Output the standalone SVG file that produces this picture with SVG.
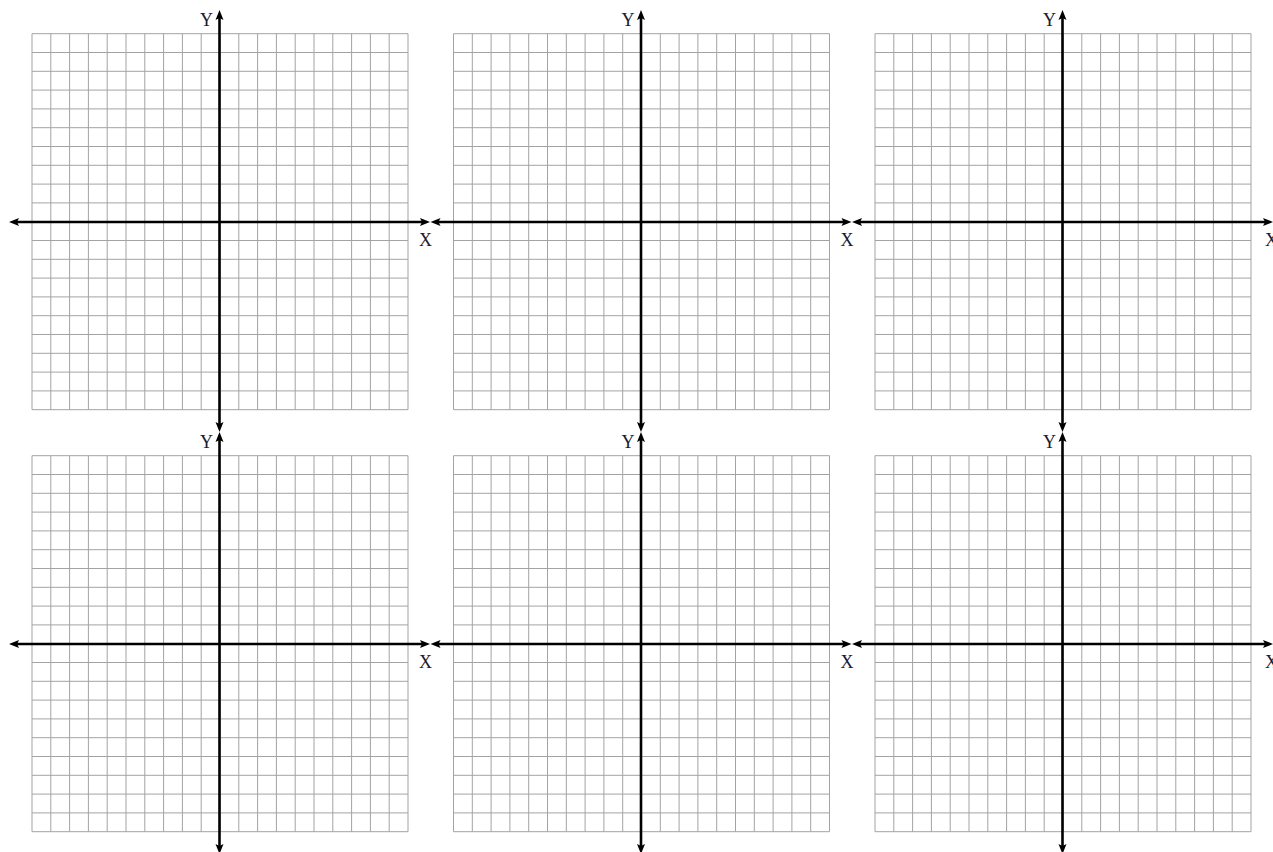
<svg xmlns="http://www.w3.org/2000/svg" xmlns:xlink="http://www.w3.org/1999/xlink" width="1273" height="852" viewBox="0 0 1273 852">
<style>
.grid{fill:none;stroke:#a3a3a3;stroke-width:1}
.axis{fill:none;stroke:#000;stroke-width:2.6}
.lbl{font-family:"Liberation Serif","Times New Roman",serif;font-size:18px;fill:#1a1a2e}
</style>
<defs>
<marker id="arr" viewBox="0 0 10 10" refX="4" refY="5" markerWidth="10" markerHeight="10" markerUnits="userSpaceOnUse" orient="auto-start-reverse" overflow="visible">
<path d="M10,5 L0,1 L2,5 L0,9 Z" fill="#000"/>
</marker>
<path id="gridp" class="grid" d="M0,0H376V376H0Z M18.8,0V376 M37.6,0V376 M56.4,0V376 M75.2,0V376 M94,0V376 M112.8,0V376 M131.6,0V376 M150.4,0V376 M169.2,0V376 M188,0V376 M206.8,0V376 M225.6,0V376 M244.4,0V376 M263.2,0V376 M282,0V376 M300.8,0V376 M319.6,0V376 M338.4,0V376 M357.2,0V376 M0,18.8H376 M0,37.6H376 M0,56.4H376 M0,75.2H376 M0,94H376 M0,112.8H376 M0,131.6H376 M0,150.4H376 M0,169.2H376 M0,188H376 M0,206.8H376 M0,225.6H376 M0,244.4H376 M0,263.2H376 M0,282H376 M0,300.8H376 M0,319.6H376 M0,338.4H376 M0,357.2H376"/>
<g id="axes">
<line class="axis" x1="-17" y1="188.3" x2="392" y2="188.3" marker-start="url(#arr)" marker-end="url(#arr)"/>
<line class="axis" x1="187.5" y1="-17.7" x2="187.5" y2="392.3" marker-start="url(#arr)" marker-end="url(#arr)"/>
</g>
</defs>
<rect width="1273" height="852" fill="#fff"/>
<g id="panel1" transform="translate(32,33.7)">
<use xlink:href="#gridp"/>
<g class="connectors"><use xlink:href="#axes"/></g>
<text class="lbl" x="168" y="-8">Y</text>
<text class="lbl" x="387" y="212.8">X</text>
</g>
<g id="panel2" transform="translate(453.5,33.7)">
<use xlink:href="#gridp"/>
<g class="connectors"><use xlink:href="#axes"/></g>
<text class="lbl" x="168" y="-8">Y</text>
<text class="lbl" x="387" y="212.8">X</text>
</g>
<g id="panel3" transform="translate(875,33.7)">
<use xlink:href="#gridp"/>
<g class="connectors"><use xlink:href="#axes"/></g>
<text class="lbl" x="168" y="-8">Y</text>
<text class="lbl" x="390" y="212.8">X</text>
</g>
<g id="panel4" transform="translate(32,455.7)">
<use xlink:href="#gridp"/>
<g class="connectors"><use xlink:href="#axes"/></g>
<text class="lbl" x="168" y="-8">Y</text>
<text class="lbl" x="387" y="212.8">X</text>
</g>
<g id="panel5" transform="translate(453.5,455.7)">
<use xlink:href="#gridp"/>
<g class="connectors"><use xlink:href="#axes"/></g>
<text class="lbl" x="168" y="-8">Y</text>
<text class="lbl" x="387" y="212.8">X</text>
</g>
<g id="panel6" transform="translate(875,455.7)">
<use xlink:href="#gridp"/>
<g class="connectors"><use xlink:href="#axes"/></g>
<text class="lbl" x="168" y="-8">Y</text>
<text class="lbl" x="390" y="212.8">X</text>
</g>
</svg>
